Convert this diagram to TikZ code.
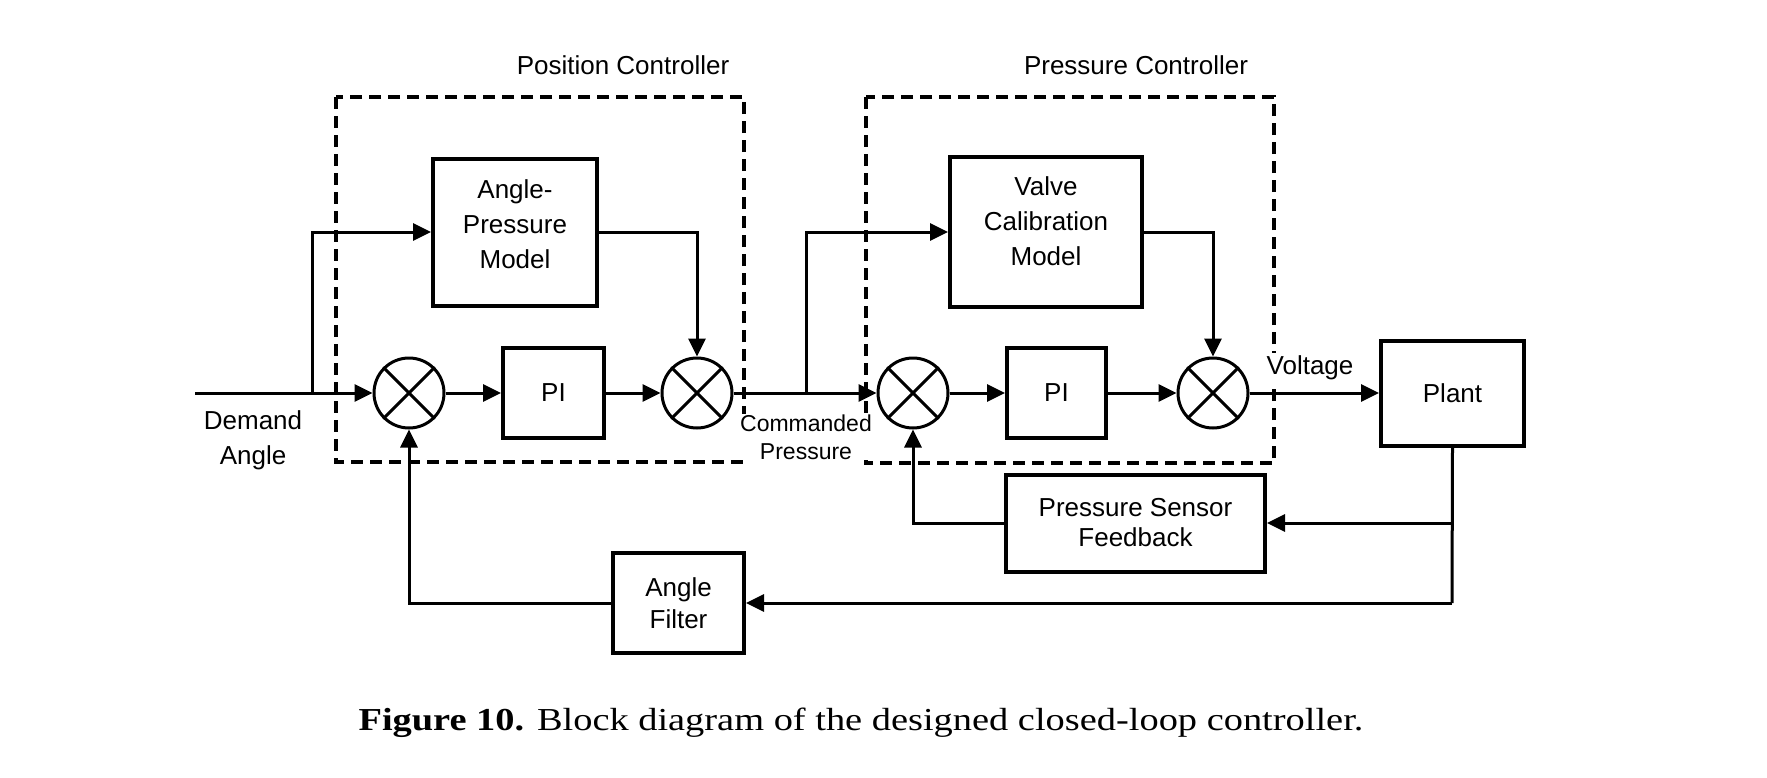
\documentclass[tikz,border=0pt]{standalone}
\usepackage{fontspec}
\usepackage{graphicx}
\setmainfont{Liberation Sans}
\newfontfamily\capfont{Liberation Serif}
\usetikzlibrary{arrows.meta}
\begin{document}
\begin{tikzpicture}[x=1pt,y=-1pt,
  box/.style={draw, line width=4pt, inner sep=0pt},
  sumnode/.style={draw, circle, line width=3pt, minimum size=70pt, inner sep=0pt},
  conn/.style={line width=3pt, -{Triangle[length=18pt,width=17pt]}},
  wire/.style={line width=3pt},
  dbox/.style={draw, line width=4.5pt, dash pattern=on 12pt off 7pt},
  lbl/.style={font=\fontsize{26}{35}\selectfont, align=center, inner sep=0pt}]
\useasboundingbox (0,0) rectangle (1767,777);

% dashed controller frames
\draw[dbox] (336,97) rectangle (744,462);
\draw[dbox] (866,97) rectangle (1274,463);
\node[lbl, anchor=base] (posc) at (623,74) {Position Controller};
\node[lbl, anchor=base] (presc) at (1136,74) {Pressure Controller};

% blocks
\node[box, minimum width=164pt, minimum height=147pt] (apm) at (515,232) {};
\node[lbl] (apmt) at (515,224) {Angle-\\Pressure\\Model};
\node[box, minimum width=101pt, minimum height=90pt, lbl] (pi1) at (553.5,393) {PI};
\node[box, minimum width=192pt, minimum height=150pt] (vcm) at (1046,232) {};
\node[lbl] (vcmt) at (1046,221) {Valve\\Calibration\\Model};
\node[box, minimum width=99pt, minimum height=90pt, lbl] (pi2) at (1056.5,393) {PI};
\node[box, minimum width=143pt, minimum height=105pt, lbl] (plant) at (1452.5,393) {Plant};
\node[box, minimum width=259pt, minimum height=97pt, lbl, font=\fontsize{26}{30}\selectfont] (psf) at (1135.5,523) {Pressure Sensor\\Feedback};
\node[box, minimum width=131pt, minimum height=100pt, lbl, font=\fontsize{26}{32}\selectfont] (af) at (678.5,603) {Angle\\Filter};

% summing junctions
\foreach \n/\x in {s1/409, s2/697, s3/913, s4/1213}{
  \node[sumnode] (\n) at (\x,393) {};
  \draw[line width=3pt] (\n.north east) -- (\n.south west) (\n.north west) -- (\n.south east);
}

% labels
\node[lbl] (demand) at (253,440) {Demand\\Angle};
\node[lbl, font=\fontsize{23}{28}\selectfont, fill=white, inner sep=1pt] (cmd) at (806,437) {Commanded\\Pressure};
\node[lbl, fill=white, inner sep=3pt] (volt) at (1310,368) {Voltage};

% connectors
\coordinate (din) at (195,393);
\coordinate (b1) at (312,393);
\coordinate (b2) at (806,393);
\coordinate (c1) at (1452,523);
\coordinate (c2) at (1452,603);

\draw[conn] (din) -- (s1.west);
\draw[conn] (b1) |- (apm.west);
\draw[conn] (s1) -- (pi1);
\draw[conn] (pi1) -- (s2);
\draw[conn] (apm.east) -| (s2.north);
\draw[conn] (s2) -- (s3);
\draw[conn] (b2) |- (vcm.west);
\draw[conn] (s3) -- (pi2);
\draw[conn] (pi2) -- (s4);
\draw[conn] (vcm.east) -| (s4.north);
\draw[conn] (s4) -- (plant);
\draw[wire] (plant.south) -- (c2);
\draw[conn] (c1) -- (psf.east);
\draw[conn] (c2) -- (af.east);
\draw[conn] (psf.west) -| (s3.south);
\draw[conn] (af.west) -| (s1.south);

% caption
\node[anchor=base, inner sep=0pt, font=\capfont\fontsize{32}{36}\selectfont] (cap) at (861,730) {\scalebox{1.2}[1]{\textbf{Figure 10.} Block diagram of the designed closed-loop controller.}};
\end{tikzpicture}
\end{document}
